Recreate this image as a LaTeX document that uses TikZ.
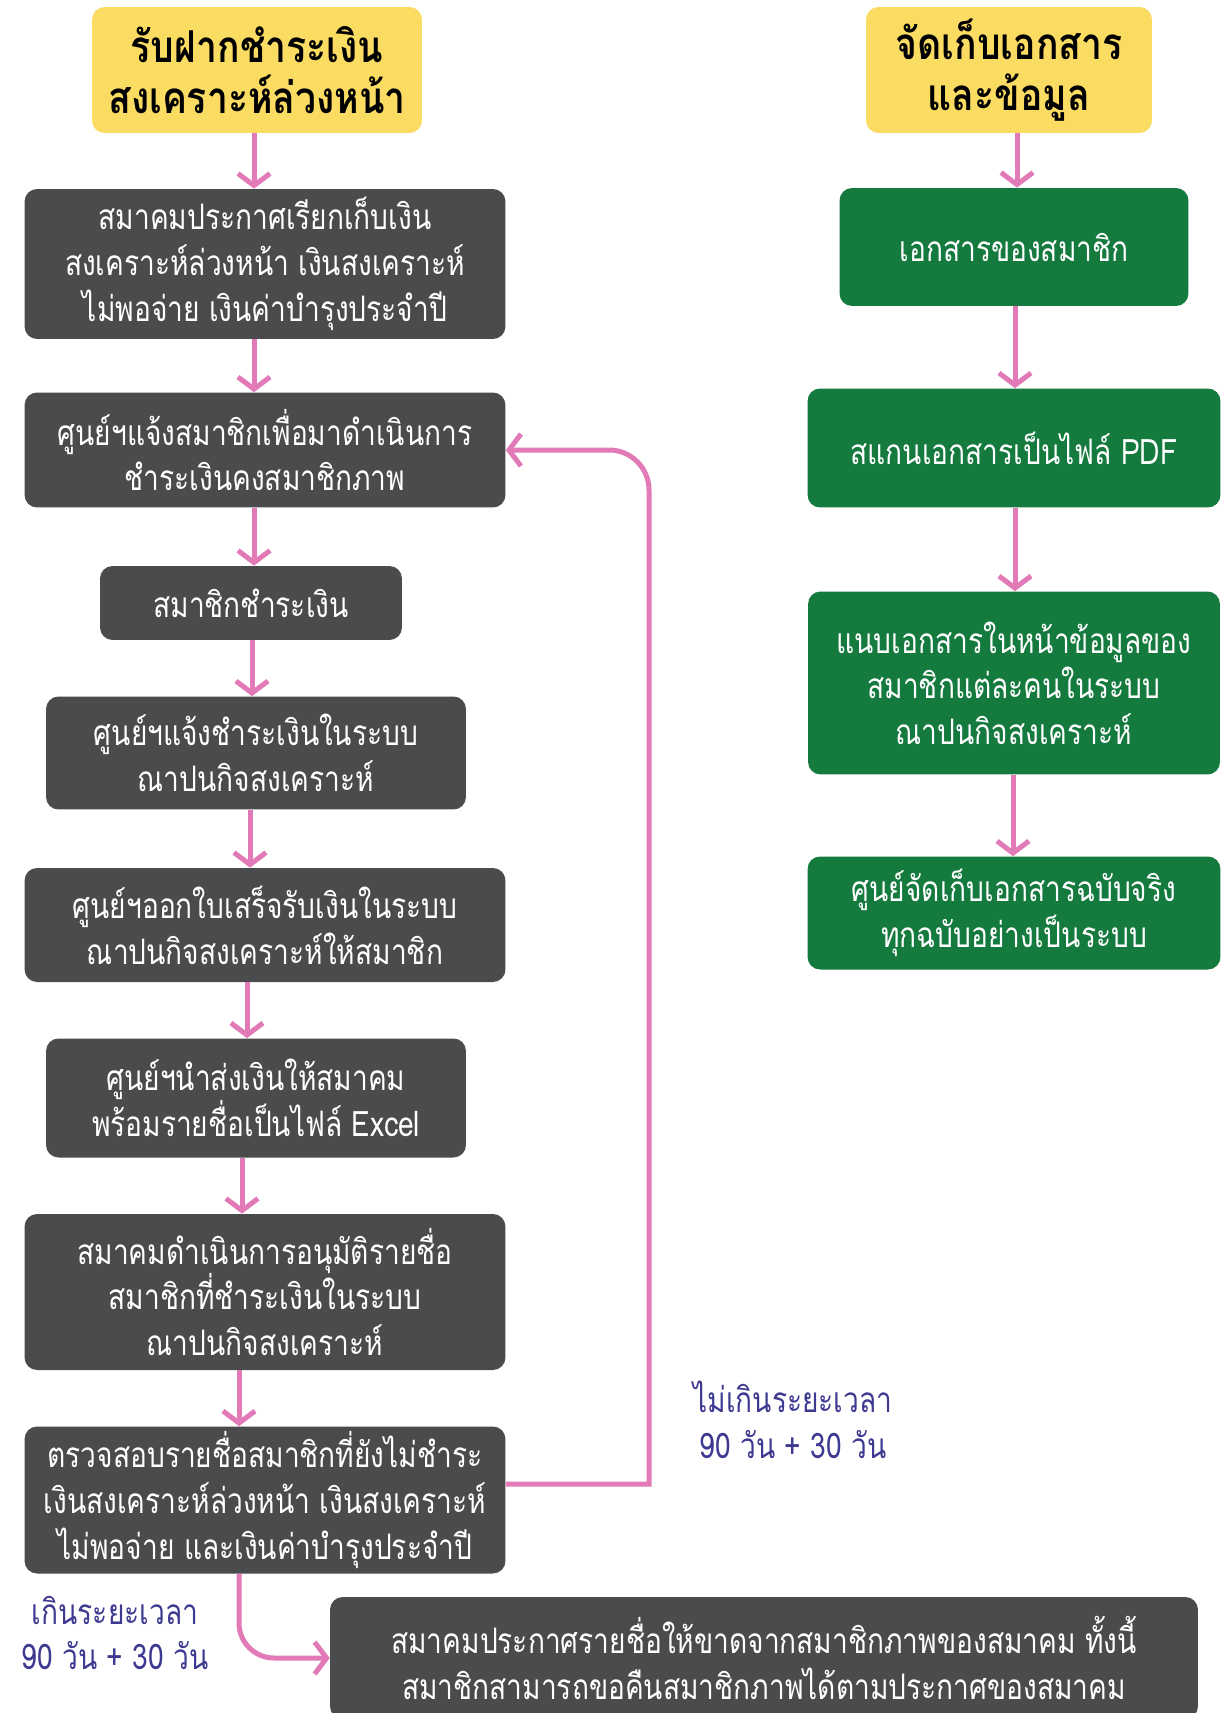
\documentclass[tikz,border=0pt]{standalone}
\usepackage{fontspec}
\setmainfont[Script=Thai, FakeStretch=0.8]{Loma}
\newfontfamily\headfont[Script=Thai, FakeStretch=0.85]{Loma}
\usetikzlibrary{arrows.meta}

\definecolor{headyellow}{RGB}{251,220,98}
\definecolor{stepgrey}{RGB}{74,75,77}
\definecolor{docgreen}{RGB}{20,122,62}
\definecolor{linkpink}{RGB}{226,122,184}
\definecolor{notepurple}{RGB}{62,58,145}

\tikzset{
    head/.style={fill=headyellow, rounded corners=0.25cm, inner sep=0pt, align=center,
        font=\headfont\bfseries\fontsize{25}{29}\selectfont},
    stepbox/.style={fill=stepgrey, rounded corners=0.25cm, inner sep=0pt, text=white, align=center,
        font=\fontsize{20}{26}\selectfont},
    docbox/.style={stepbox, fill=docgreen},
    flow/.style={draw=linkpink, line width=0.1cm, -{Straight Barb[length=0.24cm,width=0.64cm]}},
    note/.style={text=notepurple, align=center, font=\fontsize{20}{26}\selectfont}
}

\begin{document}
\begin{tikzpicture}[x=0.02cm, y=-0.02cm]
        \useasboundingbox[fill=white] (0,0) rectangle (1221,1713);

        % Left column: payment steps
        \node[head, minimum width=6.6cm, minimum height=2.52cm] (title1) at (257,70) {รับฝากชำระเงิน\\สงเคราะห์ล่วงหน้า};
        \node[stepbox, minimum width=9.62cm, minimum height=3cm] (box1) at (265,264) {สมาคมประกาศเรียกเก็บเงิน\\สงเคราะห์ล่วงหน้า เงินสงเคราะห์\\ไม่พอจ่าย เงินค่าบำรุงประจำปี};
        \node[stepbox, minimum width=9.62cm, minimum height=2.3cm] (box2) at (265,450) {ศูนย์ฯแจ้งสมาชิกเพื่อมาดำเนินการ\\ชำระเงินคงสมาชิกภาพ};
        \node[stepbox, minimum width=6.04cm, minimum height=1.48cm] (box3) at (251,603) {สมาชิกชำระเงิน};
        \node[stepbox, minimum width=8.4cm, minimum height=2.26cm] (box4) at (256,753) {ศูนย์ฯแจ้งชำระเงินในระบบ\\ณาปนกิจสงเคราะห์};
        \node[stepbox, minimum width=9.62cm, minimum height=2.28cm] (box5) at (265,925) {ศูนย์ฯออกใบเสร็จรับเงินในระบบ\\ณาปนกิจสงเคราะห์ให้สมาชิก};
        \node[stepbox, minimum width=8.4cm, minimum height=2.38cm] (box6) at (256,1098) {ศูนย์ฯนำส่งเงินให้สมาคม\\พร้อมรายชื่อเป็นไฟล์ Excel};
        \node[stepbox, minimum width=9.62cm, minimum height=3.12cm] (box7) at (265,1292) {สมาคมดำเนินการอนุมัติรายชื่อ\\สมาชิกที่ชำระเงินในระบบ\\ณาปนกิจสงเคราะห์};
        \node[stepbox, minimum width=9.62cm, minimum height=2.94cm] (box8) at (265,1500) {ตรวจสอบรายชื่อสมาชิกที่ยังไม่ชำระ\\เงินสงเคราะห์ล่วงหน้า เงินสงเคราะห์\\ไม่พอจ่าย และเงินค่าบำรุงประจำปี};
        \node[stepbox, minimum width=17.36cm, minimum height=2.44cm] (expel) at (764,1658) {สมาคมประกาศรายชื่อให้ขาดจากสมาชิกภาพของสมาคม ทั้งนี้\\สมาชิกสามารถขอคืนสมาชิกภาพได้ตามประกาศของสมาคม};

        % Right column: documents
        \node[head, minimum width=5.72cm, minimum height=2.52cm] (title2) at (1009,70) {จัดเก็บเอกสาร\\และข้อมูล};
        \node[docbox, minimum width=6.98cm, minimum height=2.36cm] (doc1) at (1014,247) {เอกสารของสมาชิก};
        \node[docbox, minimum width=8.26cm, minimum height=2.38cm] (doc2) at (1014,448) {สแกนเอกสารเป็นไฟล์ PDF};
        \node[docbox, minimum width=8.24cm, minimum height=3.66cm] (doc3) at (1014,683) {แนบเอกสารในหน้าข้อมูลของ\\สมาชิกแต่ละคนในระบบ\\ณาปนกิจสงเคราะห์};
        \node[docbox, minimum width=8.26cm, minimum height=2.26cm] (doc4) at (1014,913) {ศูนย์จัดเก็บเอกสารฉบับจริง\\ทุกฉบับอย่างเป็นระบบ};

        % Time limit labels
        \node[note] (within) at (793,1420) {ไม่เกินระยะเวลา\\90 วัน + 30 วัน};
        \node[note] (over) at (115,1633) {เกินระยะเวลา\\90 วัน + 30 วัน};

        % Arrows down each column
        \foreach \a/\b/\x in {title1/box1/254, box1/box2/254, box2/box3/254, box3/box4/252,
                box4/box5/250, box5/box6/247, box6/box7/242, box7/box8/239,
                title2/doc1/1017, doc1/doc2/1015, doc2/doc3/1015, doc3/doc4/1013} {
            \draw[flow] (\a.south -| \x,0) -- (\b.north -| \x,0);
        }

        % Loop back and drop out
        \draw[flow] ([yshift=0.32cm]box8.east) -- ([yshift=0.32cm]box8.east -| 649,0)
            [rounded corners=0.8cm] -- (box2.east -| 649,0) -- (box2.east);
        \draw[flow, rounded corners=0.7cm] (box8.south -| 239,0) |- (expel.west);

    \end{tikzpicture}
\end{document}
